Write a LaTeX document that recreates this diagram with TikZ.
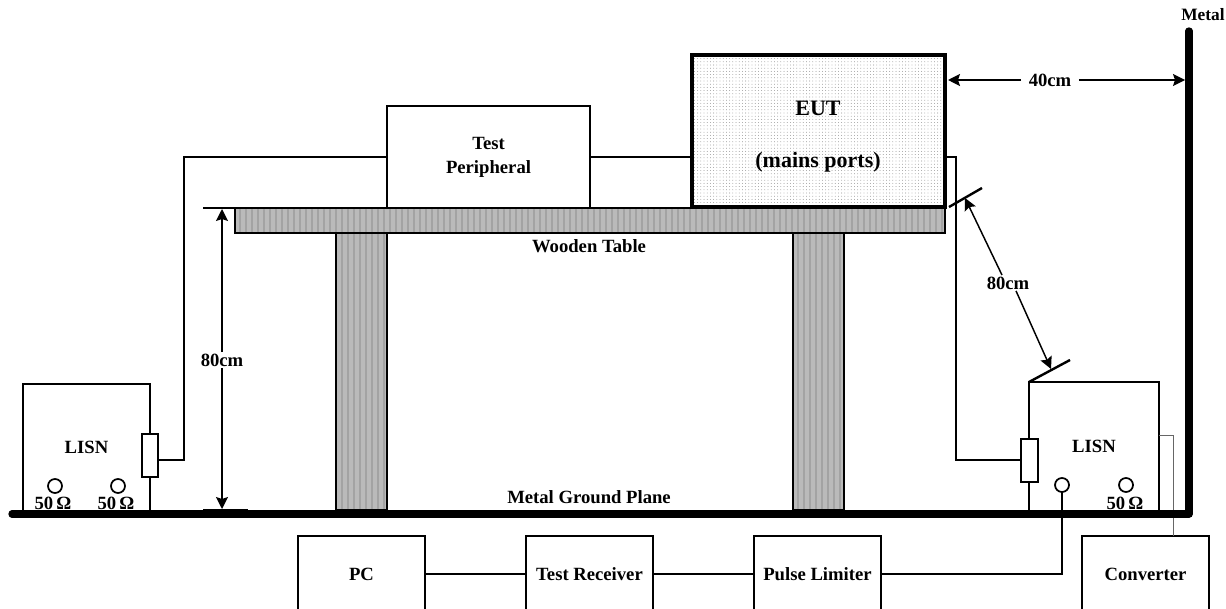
\documentclass[tikz,border=0pt]{standalone}
\usepackage{fontspec}
\setmainfont{Liberation Serif}
\usetikzlibrary{patterns.meta,arrows.meta}
\tikzset{
	box/.style={draw,line width=1.5pt,rectangle,inner sep=0pt,outer sep=0pt,align=center,font=\bfseries\fontsize{14}{18}\selectfont},
	wood/.style={draw,line width=1.2pt,preaction={fill=black!27},preaction={pattern={Lines[angle=90,distance=4.5pt,line width=1.6pt]},pattern color=black!36}},
	port/.style={draw,line width=1.3pt,circle,fill=white,minimum size=10.5pt,inner sep=0pt,outer sep=0pt},
	lbl/.style={font=\bfseries\fontsize{14}{18}\selectfont,inner sep=1pt},
	biglbl/.style={font=\bfseries\fontsize{16.5}{20}\selectfont,inner sep=1pt},
	dim/.style={line width=1.1pt,-{Stealth[length=9pt,width=9pt,inset=1.5pt]}},
	tick/.style={line width=1.8pt},
	wire/.style={line width=1.3pt},
}
\begin{document}
\begin{tikzpicture}[x=0.75pt,y=-0.75pt]
	\useasboundingbox (0,0) rectangle (1226,609);
	% table and legs
	\foreach \x in {336,793} \draw[wood] (\x,233) rectangle (\x+51,510);
	\draw[wood] (235,208) rectangle (945,233);
	% boxes on the table
	\node[box,minimum width=152.25pt,minimum height=76.5pt,fill=white] (tp) at (488.5,157) {Test\\Peripheral};
	\node[box,line width=3pt,minimum width=189.75pt,minimum height=114pt,
		preaction={fill=white},preaction={pattern={Dots[distance=2.4pt,radius=0.3pt]},pattern color=black!55}] (eut) at (818.5,131) {};
	\node[biglbl] (eutname) at (818,108) {EUT};
	\node[biglbl] (eutports) at (818,162) {(mains ports)};
	% LISN boxes
	\node[box,minimum width=95.25pt,minimum height=95.25pt] (lisna) at (86.5,447.5) {LISN};
	\node[box,minimum width=97.5pt,minimum height=96.75pt] (lisnb) at (1094,446.5) {LISN};
	\node[box,fill=white,minimum width=12pt,minimum height=32.25pt] (ra) at (150,455.5) {};
	\node[box,fill=white,minimum width=12.75pt,minimum height=32.25pt] (rb) at (1029.5,460) {};
	% ports
	\foreach \n/\x/\y in {pa/55/486,pb/118/486,pc/1062/485,pd/1126/485} \node[port] (\n) at (\x,\y) {};
	\foreach \n/\x/\y in {oa/53/503,ob/116/503,oc/1125/503} \node[lbl] (\n) at (\x,\y) {50\,Ω};
	% units below the plane
	\foreach \n/\x/\t in {pc1/361.5/PC,rcv/589.5/Test Receiver,lim/817.5/Pulse Limiter,conv/1145.5/Converter}
		\node[box,minimum width=95.25pt,minimum height=57pt] (\n) at (\x,574) {\t};
	% wires
	\coordinate (bla) at (184,157);
	\coordinate (blb) at (956,157);
	\coordinate (blc) at (1173,435);
	\coordinate (rao) at (158,460);
	\draw[wire] (rao) -| (bla) -- (tp.west);
	\draw[wire] (tp.east) -- (tp.east -| eut.west);
	\draw[wire] (tp.east -| eut.east) -- (blb) |- (rb.west);
	\draw[wire] (pc.south) |- (lim.east);
	\draw[wire] (pc1.east) -- (rcv.west);
	\draw[wire] (rcv.east) -- (lim.west);
	\draw[black!60,line width=0.7pt] (lisnb.east |- blc) -- (blc) -- (blc |- conv.north);
	% metal ground plane and wall
	\coordinate (gpl) at (12,514);
	\coordinate (gpc) at (1189,514);
	\coordinate (gpt) at (1189,31);
	\draw[line width=5.5pt,line cap=round,line join=round] (gpl) -- (gpc) -- (gpt);
	\node[lbl,font=\bfseries\fontsize{13}{16}\selectfont] (metal) at (1203,15) {Metal};
	\node[lbl] (wt) at (589,246) {Wooden Table};
	\node[lbl] (gp) at (589,497) {Metal Ground Plane};
	% dimensions
	\coordinate (ta) at (203,208); \coordinate (tb) at (263,208);
	\coordinate (tc) at (203,510); \coordinate (td) at (248,510);
	\coordinate (tt) at (222,209); \coordinate (tu) at (222,509);
	\draw[tick] (ta) -- (tb);
	\draw[tick] (tc) -- (td);
	\node[lbl,fill=white] (hgt) at (222,360) {80cm};
	\draw[dim] (hgt.north) -- (tt);
	\draw[dim] (hgt.south) -- (tu);
	\node[lbl] (wdt) at (1050,80) {40cm};
	\coordinate (wl) at (948,80); \coordinate (wr) at (1185,80);
	\draw[dim] (wdt.west) ++(-6,0) -- (wl);
	\draw[dim] (wdt.east) ++(6,0) -- (wr);
	\coordinate (ea) at (949,207); \coordinate (eb) at (982,188);
	\coordinate (la) at (1029,382); \coordinate (lb) at (1070,360);
	\draw[tick] (ea) -- (eb);
	\draw[tick] (la) -- (lb);
	\node[lbl] (dia) at (1008,283) {80cm};
	\coordinate (da) at (965,198); \coordinate (db) at (1051,369);
	\draw[dim] (dia.north) ++(-6,0) -- (da);
	\draw[dim] (dia.south) ++(8,0) -- (db);
\end{tikzpicture}
\end{document}
